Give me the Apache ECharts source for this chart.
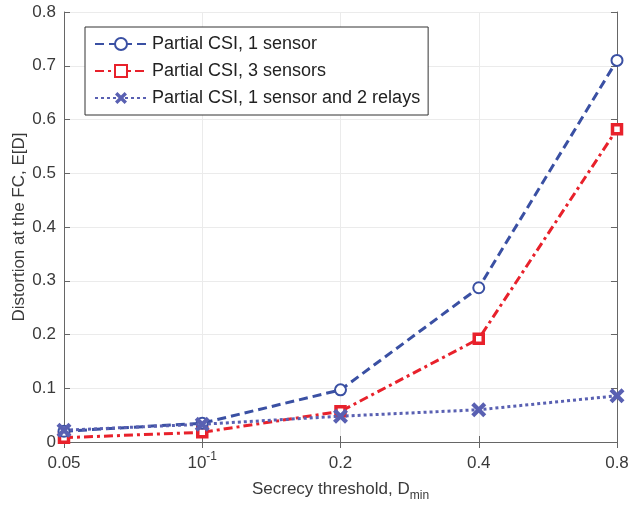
<!DOCTYPE html>
<html>
<head>
<meta charset="utf-8">
<script src="https://cdn.jsdelivr.net/npm/echarts@6/dist/echarts.min.js"></script>
<style>
  html, body { margin: 0; padding: 0; background: #fff; }
  #chart { width: 628px; height: 506px; }
</style>
</head>
<body>
<div id="chart"></div>
<script>
// data
const thresholds = ['0.05', '0.1', '0.2', '0.4', '0.8']
const oneSensor = [0.020, 0.035, 0.097, 0.287, 0.710]
const threeSensors = [0.008, 0.018, 0.057, 0.192, 0.582]
const sensorRelays = [0.022, 0.033, 0.048, 0.060, 0.086]
const yTicks = [0, 0.1, 0.2, 0.3, 0.4, 0.5, 0.6, 0.7, 0.8]

const font = 'Liberation Sans'
const axisColor = '#666'
const textColor = '#3a3a3a'
const gridColor = '#ebebeb'
const xMarker = 'path://M0,2L2,0L5,3L8,0L10,2L7,5L10,8L8,10L5,7L2,10L0,8L3,5Z'

const chart = echarts.init(document.getElementById('chart'))

const baseX = {
  type: 'category',
  data: thresholds,
  boundaryGap: false,
  axisLine: { show: true, lineStyle: { color: axisColor, width: 1 } },
  axisTick: { show: true, inside: true, length: 6, lineStyle: { color: axisColor } }
}
const baseY = {
  type: 'value',
  min: 0,
  max: 0.8,
  interval: 0.1,
  axisLine: { show: true, lineStyle: { color: axisColor, width: 1 } },
  axisTick: { show: true, inside: true, length: 6, lineStyle: { color: axisColor } }
}

chart.setOption({
  backgroundColor: '#fff',
  animation: false,
  grid: { left: 64, right: 11, top: 12, bottom: 64, outerBoundsMode: 'none' },
  legend: {
    orient: 'vertical',
    left: 85,
    top: 27,
    padding: [8, 8, 8, 9],
    itemGap: 9,
    itemWidth: 52,
    itemHeight: 15,
    borderColor: '#333',
    borderWidth: 1,
    backgroundColor: '#fff',
    textStyle: { fontFamily: font, fontSize: 18, color: '#222' },
    data: ['Partial CSI, 1 sensor', 'Partial CSI, 3 sensors', 'Partial CSI, 1 sensor and 2 relays']
  },
  xAxis: [
    Object.assign({}, baseX, {
      position: 'bottom',
      splitLine: { show: true, lineStyle: { color: gridColor, width: 1 } },
      axisLabel: {
        margin: 6,
        // every label shares the same line box so 10^-1 sits on the same baseline
        formatter: v => v === '0.1' ? '{b|10}{s|-1}' : '{b|' + v + '}',
        rich: {
          b: { fontFamily: font, fontSize: 17, color: textColor, lineHeight: 30 },
          s: { fontFamily: font, fontSize: 12, color: textColor, lineHeight: 14, padding: [0, 0, 12, 0] }
        }
      },
      name: '{n|Secrecy threshold, D}{sub|min}',
      nameLocation: 'middle',
      nameGap: 34,
      nameMoveOverlap: false,
      nameTextStyle: {
        rich: {
          n: { fontFamily: font, fontSize: 17, color: textColor },
          sub: { fontFamily: font, fontSize: 12, color: textColor, padding: [14, 0, 0, 0] }
        }
      }
    }),
    Object.assign({}, baseX, {
      position: 'top',
      axisLabel: { show: false },
      splitLine: { show: false }
    })
  ],
  yAxis: [
    Object.assign({}, baseY, {
      position: 'left',
      splitLine: { show: true, lineStyle: { color: gridColor, width: 1 } },
      axisLabel: {
        fontFamily: font,
        fontSize: 17,
        color: textColor,
        margin: 8,
        formatter: v => yTicks.includes(+v.toFixed(1)) ? String(+v.toFixed(1)) : ''
      },
      name: 'Distortion at the FC, E[D]',
      nameLocation: 'middle',
      nameGap: 36,
      nameMoveOverlap: false,
      nameTextStyle: { fontFamily: font, fontSize: 17, color: textColor }
    }),
    Object.assign({}, baseY, {
      position: 'right',
      axisLabel: { show: false },
      splitLine: { show: false }
    })
  ],
  series: [
    {
      name: 'Partial CSI, 1 sensor',
      type: 'line',
      data: oneSensor,
      symbol: 'emptyCircle',
      symbolSize: 11,
      itemStyle: { color: '#3a50a3', borderColor: '#3a50a3', borderWidth: 3 },
      lineStyle: { color: '#3a50a3', width: 3, type: [9, 5] },
      z: 3
    },
    {
      name: 'Partial CSI, 3 sensors',
      type: 'line',
      data: threeSensors,
      symbol: 'rect',
      symbolSize: 9,
      itemStyle: { color: '#fff', borderColor: '#e8212b', borderWidth: 3.5 },
      lineStyle: { color: '#e8212b', width: 3, type: [9, 4, 3, 4] },
      z: 2
    },
    {
      name: 'Partial CSI, 1 sensor and 2 relays',
      type: 'line',
      data: sensorRelays,
      symbol: xMarker,
      symbolSize: 15,
      itemStyle: { color: '#5960b2' },
      lineStyle: { color: '#5960b2', width: 3, type: [3, 3] },
      z: 4
    }
  ]
})
</script>
</body>
</html>
